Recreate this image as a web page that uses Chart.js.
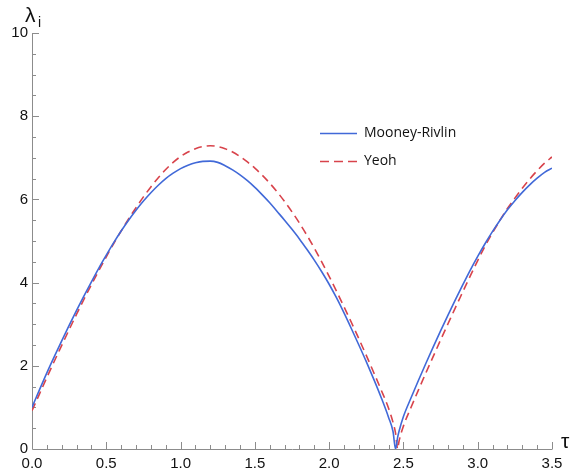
<!DOCTYPE html>
<html>
<head>
<meta charset="utf-8">
<script src="https://cdn.jsdelivr.net/npm/chart.js@4.4.1/dist/chart.umd.min.js"></script>
<style>
  body { margin: 0; background: #fff; }
</style>
</head>
<body>
<canvas id="myChart1" width="581" height="476"></canvas>
<script>
// tau values, shared by both curves (extra points near the zero crossings)
var tau = [0, 0.05, 0.1, 0.15, 0.2, 0.25, 0.3, 0.35, 0.4, 0.45, 0.5, 0.55, 0.6, 0.65, 0.7, 0.75, 0.8, 0.85, 0.9, 0.95,
  1.0, 1.05, 1.1, 1.15, 1.2, 1.25, 1.3, 1.35, 1.4, 1.45, 1.5, 1.55, 1.6, 1.65, 1.7, 1.75, 1.8, 1.85, 1.9, 1.95,
  2.0, 2.05, 2.1, 2.15, 2.2, 2.25, 2.3, 2.35, 2.4, 2.43, 2.447, 2.461, 2.47,
  2.5, 2.55, 2.6, 2.65, 2.7, 2.75, 2.8, 2.85, 2.9, 2.95, 3.0, 3.05, 3.1, 3.15, 3.2, 3.25, 3.3, 3.35, 3.4, 3.45, 3.5];

var mooneyRivlin = [1.00, 1.42, 1.83, 2.22, 2.60, 2.97, 3.33, 3.68, 4.02, 4.35, 4.66, 4.96, 5.24, 5.50, 5.74, 5.96, 6.16, 6.34, 6.50, 6.63,
  6.74, 6.82, 6.88, 6.915, 6.92, 6.89, 6.81, 6.71, 6.59, 6.45, 6.29, 6.11, 5.92, 5.71, 5.50, 5.28, 5.05, 4.80, 4.54, 4.26,
  3.96, 3.63, 3.27, 2.89, 2.50, 2.10, 1.68, 1.24, 0.76, 0.42, 0.00, 0.28, 0.42,
  0.78, 1.22, 1.64, 2.05, 2.45, 2.84, 3.22, 3.59, 3.95, 4.30, 4.63, 4.94, 5.23, 5.50, 5.75, 5.97, 6.17, 6.35, 6.51, 6.65, 6.75];

var yeoh = [0.92, 1.32, 1.72, 2.11, 2.49, 2.87, 3.24, 3.60, 3.95, 4.29, 4.62, 4.94, 5.24, 5.53, 5.80, 6.06, 6.30, 6.52, 6.72, 6.89,
  7.03, 7.14, 7.22, 7.27, 7.29, 7.27, 7.22, 7.14, 7.03, 6.90, 6.75, 6.58, 6.39, 6.18, 5.95, 5.70, 5.43, 5.14, 4.83, 4.50,
  4.15, 3.79, 3.42, 3.04, 2.65, 2.25, 1.84, 1.42, 0.98, 0.64, 0.38, 0.00, 0.18,
  0.55, 0.99, 1.41, 1.82, 2.22, 2.62, 3.01, 3.40, 3.78, 4.16, 4.53, 4.88, 5.20, 5.50, 5.78, 6.03, 6.27, 6.49, 6.69, 6.87, 7.02];

var seriesNames = ['Mooney-Rivlin', 'Yeoh'];
var xTicks = [0, 0.5, 1, 1.5, 2, 2.5, 3, 3.5];
var yTicks = [0, 2, 4, 6, 8, 10];

var blue = '#4169d8';
var red = '#d8434b';
var axisGray = '#8c8c8c';

function pts(vals) {
  return tau.map(function (t, i) { return { x: t, y: vals[i] }; });
}

// axes with inward ticks, Mathematica style
var axisFrame = {
  id: 'axisFrame',
  beforeDatasetsDraw: function (chart) {
    var ctx = chart.ctx, a = chart.chartArea, x = chart.scales.x, y = chart.scales.y;
    ctx.save();
    ctx.strokeStyle = axisGray;
    ctx.lineWidth = 1;
    ctx.beginPath();
    ctx.moveTo(a.left + 0.5, a.top);
    ctx.lineTo(a.left + 0.5, a.bottom + 0.5);
    ctx.lineTo(a.right + 0.5, a.bottom + 0.5);
    ctx.stroke();
    ctx.beginPath();
    for (var i = 1; i <= 35; i++) {
      var px = Math.round(x.getPixelForValue(i / 10)) + 0.5;
      var len = (i % 5 === 0) ? 7 : 4;
      ctx.moveTo(px, a.bottom);
      ctx.lineTo(px, a.bottom - len);
    }
    for (var j = 1; j <= 20; j++) {
      var py = Math.round(y.getPixelForValue(j / 2)) + 0.5;
      var l2 = (j % 4 === 0) ? 7 : 4;
      ctx.moveTo(a.left, py);
      ctx.lineTo(a.left + l2, py);
    }
    ctx.stroke();
    ctx.restore();
  },
  afterDraw: function (chart) {
    var ctx = chart.ctx, a = chart.chartArea;
    ctx.save();
    ctx.fillStyle = '#111';
    ctx.textBaseline = 'alphabetic';
    ctx.font = '21px "Liberation Sans"';
    ctx.fillText('λ', 25, 22);
    ctx.font = '14px "Liberation Sans"';
    ctx.fillText('i', 38, 27);
    ctx.font = '21px "Liberation Sans"';
    ctx.fillText('τ', a.right + 9, a.bottom - 1);

    // legend
    var items = [
      { name: seriesNames[0], color: blue, dash: [] },
      { name: seriesNames[1], color: red, dash: [9, 5] }
    ];
    ctx.font = '14px "Open Sans"';
    ctx.textBaseline = 'middle';
    items.forEach(function (it, k) {
      var ly = 133.5 + k * 28;
      ctx.strokeStyle = it.color;
      ctx.lineWidth = 1.6;
      ctx.setLineDash(it.dash);
      ctx.beginPath();
      ctx.moveTo(320, ly);
      ctx.lineTo(357, ly);
      ctx.stroke();
      ctx.setLineDash([]);
      ctx.fillStyle = '#111';
      ctx.fillText(it.name, 364, ly);
    });
    ctx.restore();
  }
};

var chart = new Chart('myChart1', {
  type: 'line',
  data: {
    datasets: [
      {
        label: seriesNames[0],
        data: pts(mooneyRivlin),
        borderColor: blue,
        backgroundColor: 'rgba(0, 0, 0, 0)',
        borderWidth: 1.6,
        pointRadius: 0,
        cubicInterpolationMode: 'monotone'
      },
      {
        label: seriesNames[1],
        data: pts(yeoh),
        borderColor: red,
        backgroundColor: 'rgba(0, 0, 0, 0)',
        borderWidth: 1.6,
        borderDash: [8, 5],
        pointRadius: 0,
        cubicInterpolationMode: 'monotone'
      }
    ]
  },
  options: {
    responsive: false,
    animation: false,
    layout: { padding: { left: 0, top: 33, right: 29, bottom: 0 } },
    plugins: { legend: { display: false }, tooltip: { enabled: false } },
    scales: {
      x: {
        type: 'linear',
        min: 0,
        max: 3.5,
        afterFit: function (s) { s.height = 27; },
        afterBuildTicks: function (s) { s.ticks = xTicks.map(function (v) { return { value: v }; }); },
        grid: { display: false, drawTicks: false },
        border: { display: false },
        ticks: {
          padding: 6,
          maxRotation: 0,
          color: '#111',
          font: { family: 'Liberation Sans', size: 15 },
          callback: function (v) { return Number(v).toFixed(1); }
        }
      },
      y: {
        type: 'linear',
        min: 0,
        max: 10,
        afterFit: function (s) { s.width = 32; },
        afterBuildTicks: function (s) { s.ticks = yTicks.map(function (v) { return { value: v }; }); },
        grid: { display: false, drawTicks: false },
        border: { display: false },
        ticks: {
          padding: 4,
          color: '#111',
          font: { family: 'Liberation Sans', size: 15 },
          callback: function (v) { return String(v); }
        }
      }
    }
  },
  plugins: [axisFrame]
});
</script>
</body>
</html>
